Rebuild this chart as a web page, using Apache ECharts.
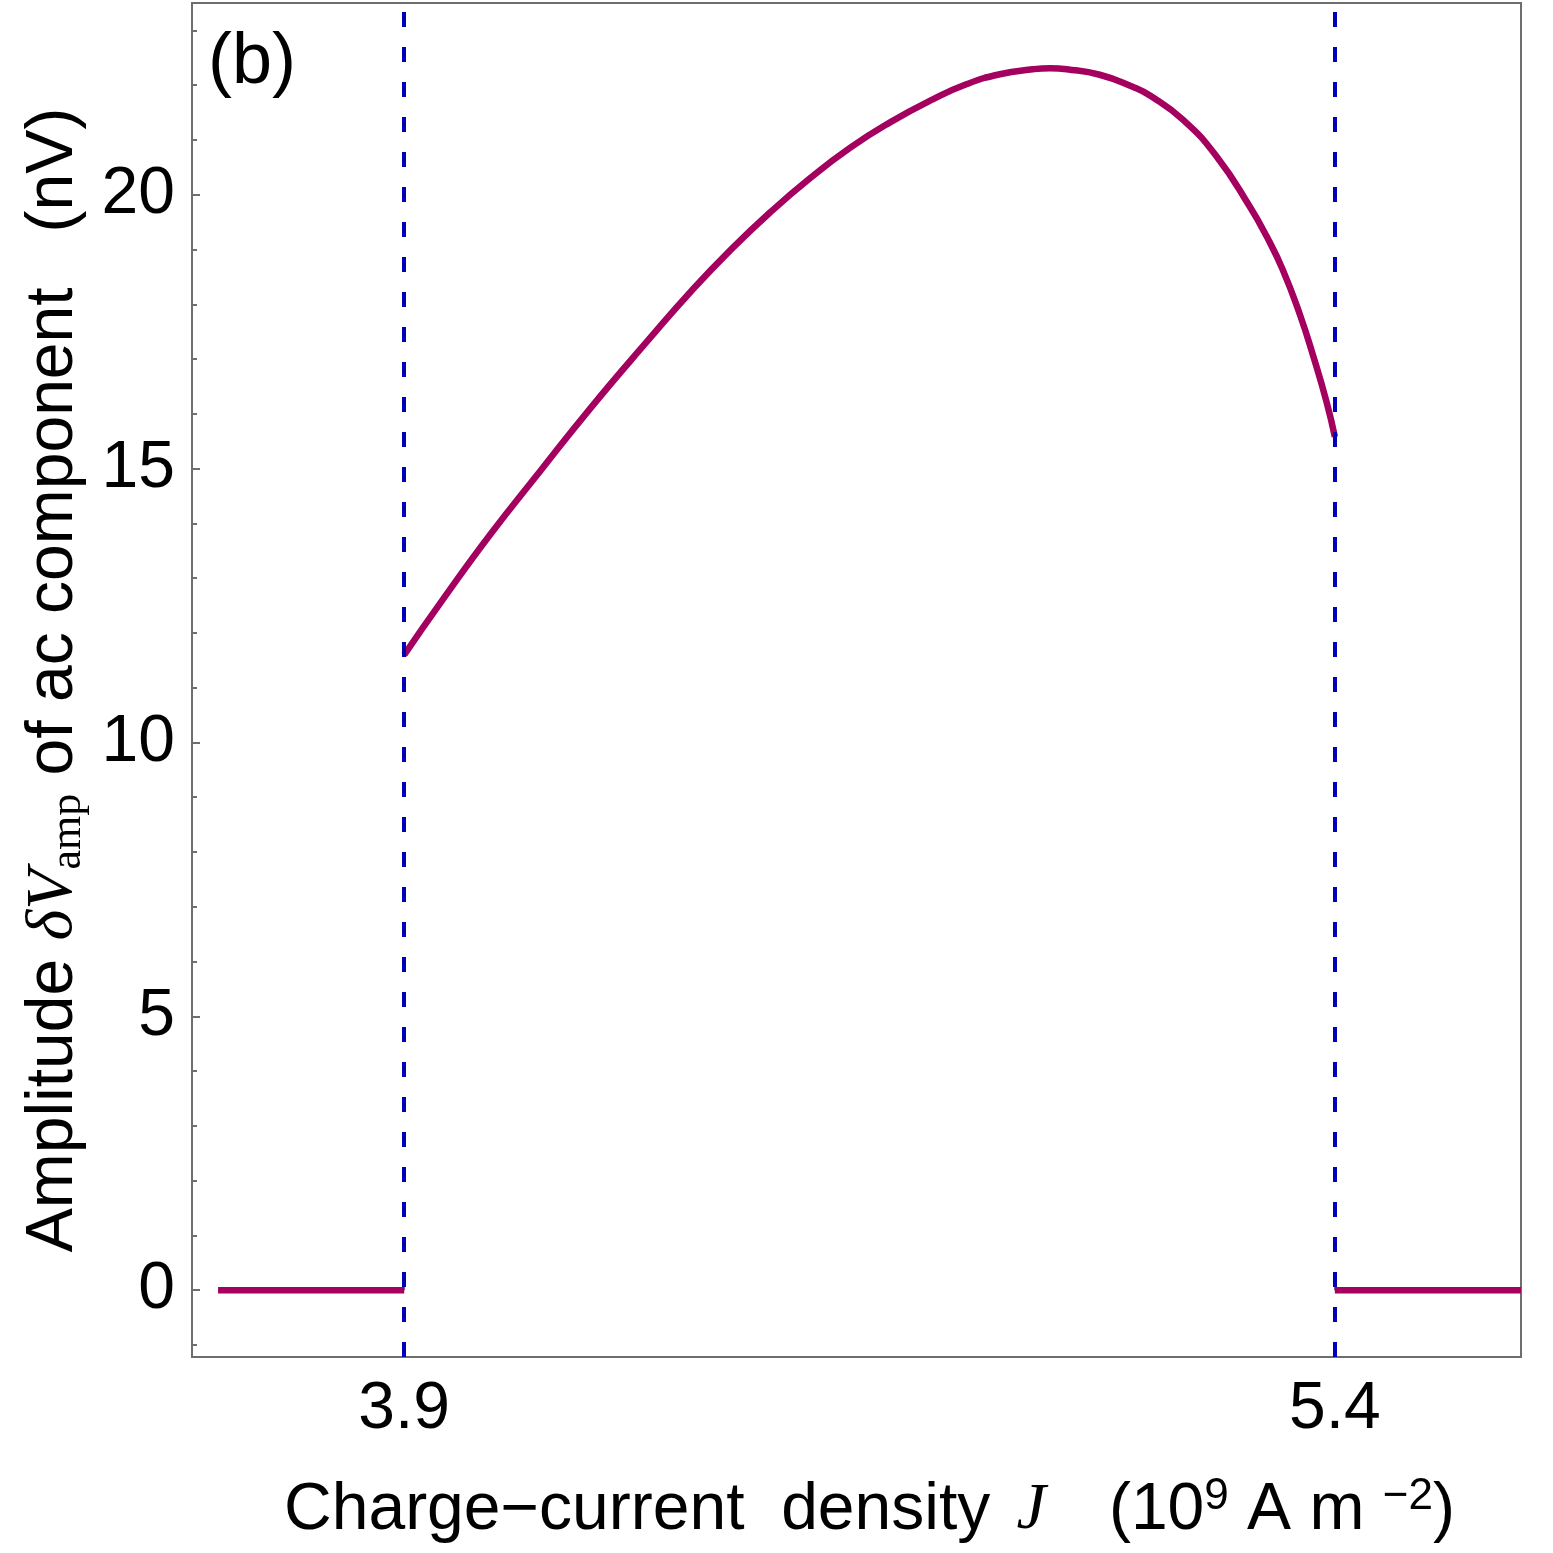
<!DOCTYPE html>
<html>
<head>
<meta charset="utf-8">
<script src="https://cdn.jsdelivr.net/npm/echarts@6/dist/echarts.min.js"></script>
<style>
  html, body { margin: 0; padding: 0; background: #fff; }
  #chart { width: 1553px; height: 1553px; }
</style>
</head>
<body>
<div id="chart"></div>
<script>
// curve: J (10^9 A m^-2) vs amplitude (nV)
var curveJ = [3.9, 3.963, 4.039, 4.119, 4.2, 4.296, 4.361, 4.425, 4.49, 4.554, 4.619, 4.683, 4.752, 4.807, 4.86, 4.913, 4.941, 4.968, 5.021, 5.074, 5.102, 5.155, 5.21, 5.263, 5.29, 5.316, 5.344, 5.365, 5.387, 5.4]
var curveV = [11.6, 12.62, 13.8, 14.95, 16.1, 17.38, 18.22, 18.98, 19.68, 20.3, 20.86, 21.32, 21.74, 22.02, 22.2, 22.29, 22.31, 22.29, 22.19, 21.97, 21.81, 21.37, 20.69, 19.78, 19.24, 18.63, 17.8, 17.06, 16.2, 15.58]
// zero parts outside the oscillating window
var leftJ = [3.6, 3.9]
var rightJ = [5.4, 5.7]
var zeroV = [0, 0]
// thresholds (dashed lines) and tick labels
var thresholds = [3.9, 5.4]
var xTicks = [3.9, 5.4]
var yMajor = [0, 5, 10, 15, 20]
var yMinor = [-1, 0, 1, 2, 3, 4, 5, 6, 7, 8, 9, 10, 11, 12, 13, 14, 15, 16, 17, 18, 19, 20, 21, 22, 23]

var FONT = 'Liberation Sans'
var SERIF = 'Liberation Serif'
var FS = 66
var lineColor = '#a4005f'
var dashColor = '#0000b4'
var frameColor = '#6e6e6e'

function pairs (xs, ys) {
  return xs.map(function (x, i) { return [x, ys[i]] })
}

var myChart = echarts.init(document.getElementById('chart'))
var option = {
  backgroundColor: '#fff',
  animation: false,
  grid: {
    left: 192, right: 32, top: 3, bottom: 196,
    outerBoundsMode: 'none',
    containLabel: false,
    show: true, borderColor: frameColor, borderWidth: 2, backgroundColor: 'transparent'
  },
  graphic: [
    {
      type: 'text', left: 208, top: 27,
      style: { text: '(b)', font: '72px "Liberation Sans"', fill: '#000' }
    }
  ],
  xAxis: {
    type: 'value',
    min: 3.558,
    max: 5.70,
    axisLine: { show: false },
    splitLine: { show: false },
    axisTick: { inside: true, length: 8, customValues: xTicks, lineStyle: { color: frameColor, width: 2 } },
    axisLabel: {
      customValues: xTicks, margin: 20,
      fontSize: FS, fontFamily: FONT, color: '#000',
      formatter: function (v) { return v.toFixed(1) }
    },
    name: '{t|Charge−current  density }{i|J}{t|   (10}{p|9}{t| A m }{p|−2}{t|)}',
    nameLocation: 'middle',
    nameGap: 118,
    nameTextStyle: {
      fontSize: FS, fontFamily: FONT, color: '#000',
      padding: [0, 0, 0, 26],
      rich: {
        t: { fontSize: FS, fontFamily: FONT, color: '#000' },
        i: { fontSize: FS, fontFamily: SERIF, fontStyle: 'italic', color: '#000', padding: [0, 8, 0, 8] },
        p: { fontSize: 44, fontFamily: FONT, color: '#000', padding: [0, 0, 28, 0] }
      }
    }
  },
  yAxis: [
    {
      type: 'value',
      min: -1.22,
      max: 23.5,
      axisLine: { show: false },
      splitLine: { show: false },
      axisTick: { inside: true, length: 8, customValues: yMajor, lineStyle: { color: frameColor, width: 2 } },
      axisLabel: { customValues: yMajor, margin: 17, fontSize: FS, fontFamily: FONT, color: '#000' },
      name: '{t|Amplitude }{m|δV}{s|amp}{t| of ac component   (nV)}',
      nameLocation: 'middle',
      nameGap: 102,
      nameTextStyle: {
        fontSize: FS, fontFamily: FONT, color: '#000',
        rich: {
          t: { fontSize: FS, fontFamily: FONT, color: '#000' },
          m: { fontSize: FS, fontFamily: SERIF, fontStyle: 'italic', color: '#000' },
          s: { fontSize: 44, fontFamily: SERIF, color: '#000', padding: [28, 0, 0, 0] }
        }
      }
    },
    {
      type: 'value',
      min: -1.22,
      max: 23.5,
      position: 'left',
      axisLine: { show: false },
      splitLine: { show: false },
      axisLabel: { show: false },
      axisTick: { inside: true, length: 5, customValues: yMinor, lineStyle: { color: frameColor, width: 2 } }
    }
  ],
  series: [
    {
      name: 'thresholds',
      type: 'line',
      data: [],
      markLine: {
        silent: true,
        symbol: 'none',
        label: { show: false },
        lineStyle: { color: dashColor, width: 4, type: [15, 20] },
        data: thresholds.map(function (x) { return { xAxis: x } })
      }
    },
    {
      name: 'below',
      type: 'line',
      showSymbol: false,
      data: pairs(leftJ, zeroV),
      lineStyle: { color: lineColor, width: 6.5 }
    },
    {
      name: 'ac amplitude',
      type: 'line',
      smooth: 0.5,
      showSymbol: false,
      data: pairs(curveJ, curveV),
      lineStyle: { color: lineColor, width: 6.5 }
    },
    {
      name: 'above',
      type: 'line',
      showSymbol: false,
      data: pairs(rightJ, zeroV),
      lineStyle: { color: lineColor, width: 6.5 }
    }
  ]
}
myChart.setOption(option)
</script>
</body>
</html>
